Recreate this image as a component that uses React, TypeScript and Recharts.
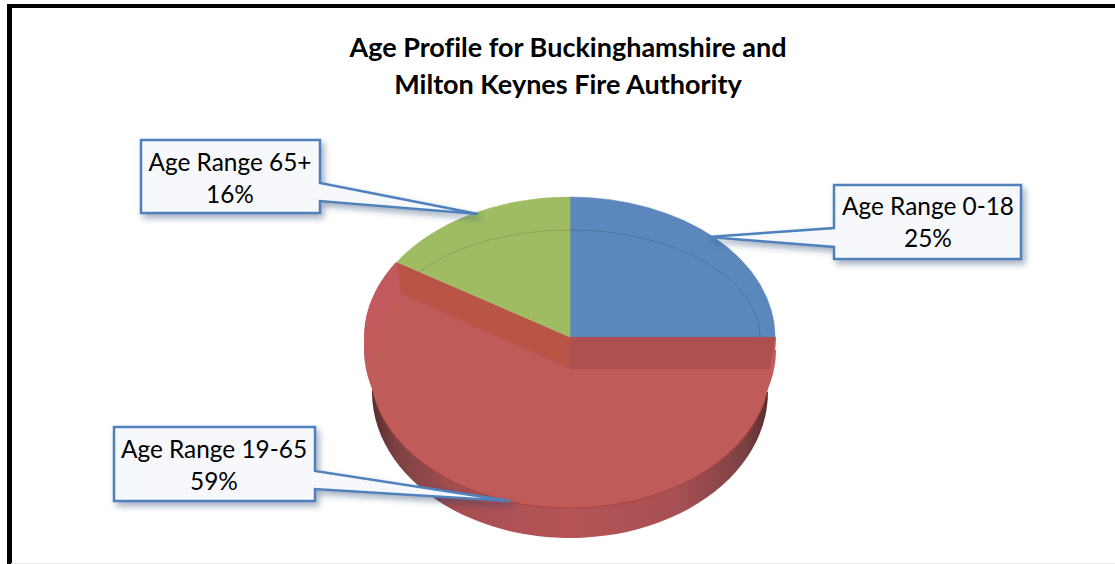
import { PieChart, Pie } from 'recharts';

const AGE_RANGES = ['Age Range 0-18', 'Age Range 19-65', 'Age Range 65+'];
const SHARES = [25, 59, 16];
const SLICE_COLORS = ['#5c87bc', '#bf5b58', '#a0bc63'];
const TITLE_LINES = ['Age Profile for Buckinghamshire and', 'Milton Keynes Fire Authority'];

const pieData = AGE_RANGES.map((name, i) => ({ name, value: SHARES[i], fill: SLICE_COLORS[i] }));

const FONT = 'Lato, "Open Sans", sans-serif';
const BLUE_LINE = '#4f81bd';
const SQUASH = 140 / 205; // tilt of the disc
const RECESSED = 'Age Range 19-65';

// callout box + tail for each slice
const CALLOUTS: Record<string, { x: number; y: number; w: number; h: number; tail: number[][]; side: 'l' | 'r'; cx: number; base: number[] }> = {
  'Age Range 0-18': { x: 834, y: 185, w: 187, h: 74, side: 'l', tail: [[834, 228], [708, 237], [834, 247]], cx: 928, base: [215, 247] },
  'Age Range 19-65': { x: 114, y: 427, w: 201, h: 74, side: 'r', tail: [[315, 471], [510, 501], [315, 489]], cx: 214, base: [458, 490] },
  'Age Range 65+': { x: 141, y: 140, w: 179, h: 73, side: 'r', tail: [[320, 183], [478, 214], [320, 201]], cx: 230, base: [171, 203] },
};

const pt = (cx: number, cy: number, rx: number, ry: number, deg: number) => {
  const a = (deg * Math.PI) / 180;
  return [cx + rx * Math.cos(a), cy - ry * Math.sin(a)];
};

const sectorPath = (cx: number, cy: number, rx: number, ry: number, start: number, end: number) => {
  const [x1, y1] = pt(cx, cy, rx, ry, start);
  const [x2, y2] = pt(cx, cy, rx, ry, end);
  const large = Math.abs(start - end) > 180 ? 1 : 0;
  return `M${cx},${cy} L${x1},${y1} A${rx},${ry} 0 ${large} 1 ${x2},${y2} Z`;
};

const arcPath = (cx: number, cy: number, rx: number, ry: number, start: number, end: number) => {
  const [x1, y1] = pt(cx, cy, rx, ry, start);
  const [x2, y2] = pt(cx, cy, rx, ry, end);
  return `M${x1},${y1} A${rx},${ry} 0 0 1 ${x2},${y2}`;
};

// thin inner ring on the raised slices, ends on the slice edges
const ringPath = (cx: number, cy: number, R: number, start: number, end: number) => {
  const rx = 190;
  const ry = 107;
  const hit = (deg: number) => {
    const [ex, ey] = pt(0, 0, R, R * SQUASH, deg);
    const k = 1 / Math.sqrt((ex / rx) ** 2 + (ey / ry) ** 2);
    return [cx + ex * k, cy + ey * k];
  };
  const [x1, y1] = hit(start);
  const [x2, y2] = hit(end);
  return `M${x1},${y1} A${rx},${ry} 0 0 1 ${x2},${y2}`;
};

function DiscSlice(props: any) {
  const { cx, cy, outerRadius: R, startAngle, endAngle, fill, name } = props;
  const ry = R * SQUASH;

  if (name !== RECESSED) {
    return (
      <g>
        <path d={sectorPath(cx, cy, R, ry, startAngle, endAngle)} fill={fill} stroke={fill} strokeWidth={0.6} />
        <path d={ringPath(cx, cy, R, startAngle, endAngle)} fill="none" stroke="#000" strokeOpacity={0.13} strokeWidth={1} />
      </g>
    );
  }

  const drop = 32;
  const faceRx = R - 5;
  const [leftX, leftY] = pt(cx, cy, R, ry, endAngle);
  const [lowX, lowY] = pt(cx, cy + drop, faceRx, ry, endAngle);
  return (
    <g>
      <path d={sectorPath(cx, cy + 55, R - 7, ry + 6, startAngle, endAngle)} fill="url(#discSide)" />
      <path d={sectorPath(cx, cy, R + 1, ry, startAngle, endAngle)} fill="#c25a5d" />
      <path d={sectorPath(cx, cy + 13, R + 1, ry, startAngle, endAngle)} fill="#c25a5d" />
      <path d={`M${cx},${cy} L${cx + R},${cy} L${cx + faceRx},${cy + drop} L${cx},${cy + drop} Z`} fill="#ae5050" />
      <path d={`M${cx},${cy} L${leftX},${leftY} L${lowX},${lowY} L${cx},${cy + drop} Z`} fill="#b95546" />
      <path d={sectorPath(cx, cy + drop, faceRx, ry - 1, startAngle, endAngle)} fill={fill} />
      <path d={arcPath(cx, cy + drop, faceRx, ry - 1, -15, -165)} fill="none" stroke="#a5403f" strokeOpacity={0.7} strokeWidth={1.2} />
    </g>
  );
}

function Callout(props: any) {
  const c = CALLOUTS[props.name];
  if (!c) return null;
  const [a, tip, b] = c.tail;
  const right = c.x + c.w;
  const bottom = c.y + c.h;
  const d =
    c.side === 'r'
      ? `M${c.x},${c.y} H${right} V${a[1]} L${tip[0]},${tip[1]} L${right},${b[1]} V${bottom} H${c.x} Z`
      : `M${c.x},${c.y} H${right} V${bottom} H${c.x} V${b[1]} L${tip[0]},${tip[1]} L${c.x},${a[1]} Z`;
  return (
    <g>
      <path d={d} fill="#f6f8fb" stroke={BLUE_LINE} strokeWidth={2.5} filter="url(#calloutShadow)" />
      <text x={c.cx} y={c.base[0]} textAnchor="middle" fontFamily={FONT} fontSize={24.4} fill="#000">{props.name}</text>
      <text x={c.cx} y={c.base[1]} textAnchor="middle" fontFamily={FONT} fontSize={24.4} fill="#000">{`${props.value}%`}</text>
    </g>
  );
}

export default function App() {
  return (
    <div style={{ position: 'absolute', left: 0, top: 0, width: 1115, height: 564, background: '#fff', overflow: 'hidden' }}>
      <div style={{ position: 'absolute', left: 7, top: 4, right: 0, height: 3.5, background: '#000' }} />
      <div style={{ position: 'absolute', left: 7, top: 4, bottom: 0, width: 4.5, background: '#000' }} />
      <div style={{ position: 'absolute', left: 11, bottom: 0, right: 0, height: 1.5, background: '#e6e6e6' }} />
      <div style={{ position: 'absolute', left: 0, top: 0 }}>
        <PieChart width={1115} height={564} margin={{ top: 0, right: 0, bottom: 0, left: 0 }}>
          <defs>
            <linearGradient id="discSide" x1="0" y1="0" x2="1" y2="0">
              <stop offset="0%" stopColor="#5a2c2e" />
              <stop offset="6%" stopColor="#7c4143" />
              <stop offset="22%" stopColor="#a64f52" />
              <stop offset="50%" stopColor="#b65457" />
              <stop offset="78%" stopColor="#a64f52" />
              <stop offset="94%" stopColor="#7c4143" />
              <stop offset="100%" stopColor="#5a2c2e" />
            </linearGradient>
            <filter id="calloutShadow" x="-10%" y="-15%" width="125%" height="140%">
              <feDropShadow dx={3} dy={4} stdDeviation={3} floodColor="#1f3a60" floodOpacity={0.4} />
            </filter>
          </defs>
          <text textAnchor="middle" fontFamily={FONT} fontWeight={700} fontSize={27} fill="#000" style={{ fontVariantLigatures: 'none' }}>
            <tspan x={568} y={57}>{TITLE_LINES[0]}</tspan>
            <tspan x={568} y={94}>{TITLE_LINES[1]}</tspan>
          </text>
          <Pie
            data={pieData}
            dataKey="value"
            nameKey="name"
            cx={570}
            cy={337}
            outerRadius={205}
            startAngle={90}
            endAngle={-270}
            shape={DiscSlice}
            label={Callout}
            labelLine={false}
            isAnimationActive={false}
          />
        </PieChart>
      </div>
    </div>
  );
}
